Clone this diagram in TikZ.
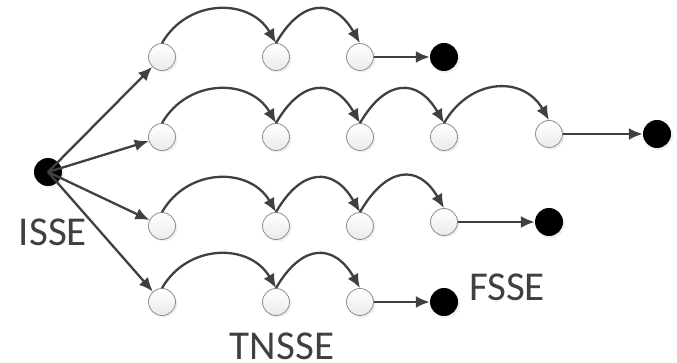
\documentclass[tikz,border=0pt]{standalone}
\usepackage{fontspec}
\setmainfont{Carlito}
\usetikzlibrary{arrows.meta,shadows}
\definecolor{ink}{HTML}{404040}
\tikzset{
    state/.style={circle, minimum size=27pt, inner sep=0pt, draw=black!45, line width=0.8pt,
        top color=white, bottom color=black!8,
        drop shadow={opacity=0.12, shadow xshift=2pt, shadow yshift=-2pt}},
    final/.style={circle, minimum size=28pt, inner sep=0pt, fill=black,
        drop shadow={opacity=0.12, shadow xshift=2pt, shadow yshift=-2pt}},
    link/.style={-{Latex[length=14pt,width=12pt]}, ink, line width=2.3pt},
    lbl/.style={text=ink, font=\fontsize{41}{48}\selectfont}
}
\begin{document}
\begin{tikzpicture}[x=1pt,y=1pt]
    \path[use as bounding box] (0,0) rectangle (677,-363);
    \node[final] (isse) at (48,-172) {};
    \foreach \n/\x/\y in {a1/162/57, a2/276/57, a3/360/57,
                          b1/162/137, b2/276/137, b3/360/137, b4/444/137, b5/549/134,
                          c1/162/226, c2/276/226, c3/360/226, c4/444/222,
                          d1/162/302, d2/276/302, d3/360/302} {
        \node[state] (\n) at (\x,-\y) {};
    }
    \foreach \n/\x/\y in {ae/444/57, be/657/134, ce/549/222, de/444/302} {
        \node[final] (\n) at (\x,-\y) {};
    }
    \foreach \a/\b in {a1/a2, a2/a3, b1/b2, b2/b3, b3/b4, b4/b5, c1/c2, c2/c3, c3/c4, d1/d2, d2/d3} {
        \draw[link] (\a.north) .. controls +(60:52) and +(120:52) .. (\b.north);
    }
    \foreach \a/\b in {a3/ae, b5/be, c4/ce, d3/de} {
        \draw[link] (\a) -- (\b);
    }
    \foreach \b in {a1, b1, c1, d1} {
        \draw[link] (isse.center) -- (\b);
    }
    \node[lbl] (isselbl) at (53,-232) {ISSE};
    \node[lbl] (tnsselbl) at (282,-346) {TNSSE};
    \node[lbl] (fsselbl) at (507,-287) {FSSE};
\end{tikzpicture}
\end{document}
